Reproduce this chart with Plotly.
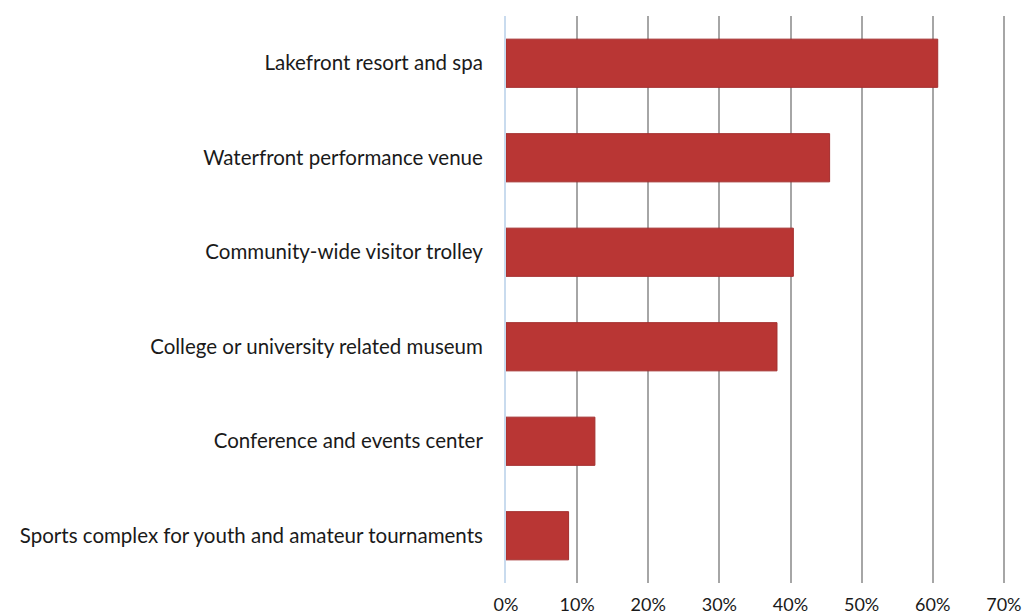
import plotly.graph_objects as go

# attractions, top to bottom as shown
categories = [
    "Lakefront resort and spa",
    "Waterfront performance venue",
    "Community-wide visitor trolley",
    "College or university related museum",
    "Conference and events center",
    "Sports complex for youth and amateur tournaments",
]
shares = [0.607, 0.455, 0.404, 0.381, 0.125, 0.088]
tick_vals = [0, 0.1, 0.2, 0.3, 0.4, 0.5, 0.6, 0.7]
tick_text = ["0%", "10%", "20%", "30%", "40%", "50%", "60%", "70%"]

fig = go.Figure(go.Bar(
    x=shares, y=categories, orientation="h",
    marker=dict(color="#b93634", line=dict(color="#a32e2d", width=1)),
    hoverinfo="x+y",
))

fig.update_layout(
    width=1023, height=615,
    margin=dict(l=506, r=17, t=16, b=32),
    plot_bgcolor="white", paper_bgcolor="white",
    font=dict(family="Lato, Open Sans, sans-serif", size=20.5, color="#1a1a1a"),
    bargap=0.49,
    showlegend=False,
    xaxis=dict(
        range=[0, 0.703], tickvals=tick_vals, ticktext=tick_text,
        showgrid=True, gridcolor="#a6a6a6", gridwidth=2,
        zeroline=False, showline=False, ticks="",
        ticklabelstandoff=9, ticklabeloverflow="allow",
        automargin=False, fixedrange=True,
        tickfont=dict(size=18),
    ),
    yaxis=dict(
        categoryorder="array", categoryarray=categories[::-1],
        showline=True, linecolor="#c9dbee", linewidth=2,
        ticks="", ticklabelstandoff=17, automargin=False, fixedrange=True,
    ),
)

# drop the default page margin so the figure fills the window exactly
fig.write_html("out.html", config={"displayModeBar": False},
               post_script="document.body.style.margin='0';document.body.style.overflow='hidden';")
